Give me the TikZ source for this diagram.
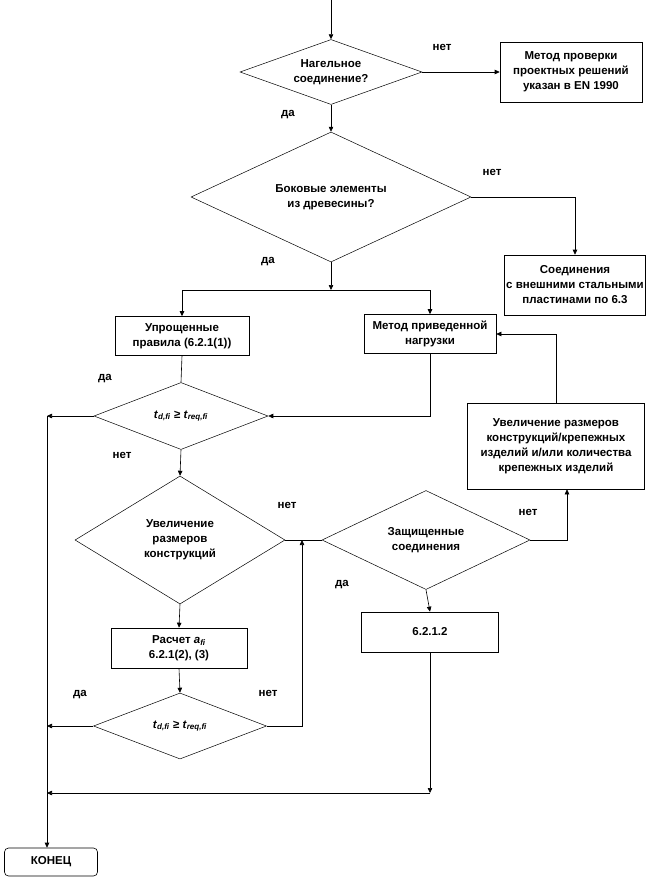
\documentclass[tikz,border=0pt]{standalone}
\usepackage{fontspec}
\setmainfont{Liberation Sans}
\usetikzlibrary{shapes.geometric,arrows.meta}

\begin{document}
\begin{tikzpicture}[x=1pt,y=-1pt,
    font=\bfseries\fontsize{11.5}{15}\selectfont,
    box/.style={draw,line width=0.6pt,align=center,inner sep=2pt},
    dec/.style={diamond,draw,line width=0.5pt,align=center,inner sep=0pt},
    arr/.style={-{Triangle[length=5pt,width=4.5pt]},line width=0.6pt},
    lbl/.style={inner sep=0pt}]
  \useasboundingbox (0,0) rectangle (649,879);

  % decisions
  \node[dec,minimum width=182,minimum height=65,aspect=2.8] (d1) at (331,72) {Нагельное\\соединение?};
  \node[dec,minimum width=280,minimum height=130,aspect=2.15] (d2) at (331,197) {Боковые элементы\\из древесины?};
  \node[dec,minimum width=174,minimum height=67,aspect=2.6] (d3) at (181,416)
    {\textit{t}\textsubscript{\textit{d,fi}} ≥ \textit{t}\textsubscript{\textit{req,fi}}};
  \node[dec,minimum width=210,minimum height=128,aspect=1.64] (d4) at (180,540) {Увеличение\\размеров\\конструкций};
  \node[dec,minimum width=208,minimum height=99,aspect=2.1] (d5) at (426,540) {Защищенные\\соединения};
  \node[dec,minimum width=173,minimum height=66,aspect=2.6] (d6) at (180,726)
    {\textit{t}\textsubscript{\textit{d,fi}} ≥ \textit{t}\textsubscript{\textit{req,fi}}};

  % boxes
  \node[box,minimum width=142,minimum height=60] (b1) at (571,72) {Метод проверки\\проектных решений\\указан в EN 1990};
  \node[box,minimum width=140,minimum height=60] (b2) at (575,285) {Соединения\\с внешними стальными\\пластинами по 6.3};
  \node[box,minimum width=134,minimum height=39] (b3) at (182,336) {Упрощенные\\правила (6.2.1(1))};
  \node[box,minimum width=132,minimum height=39] (b4) at (430,334) {Метод приведенной\\нагрузки};
  \node[box,minimum width=177,minimum height=86] (b5) at (556,446) {Увеличение размеров\\конструкций/крепежных\\изделий и/или количества\\крепежных изделий};
  \node[box,minimum width=136,minimum height=40] (b6) at (179,648) {Расчет \textit{a}\textsubscript{\textit{fi}}\\6.2.1(2), (3)};
  \node[box,minimum width=137,minimum height=40] (b7) at (430,632) {6.2.1.2};
  \node[box,rounded corners=4pt,minimum width=93,minimum height=28] (kon) at (51,862) {КОНЕЦ};

  % helper points
  \coordinate (start) at (331,0);
  \coordinate (split) at (331,290);
  \coordinate (bus) at (47,416);
  \coordinate (join) at (302,540);
  \coordinate (corner) at (430,793);

  % connectors
  \draw[arr] (start) -- (d1.north);
  \draw[arr] (d1.east) -- (b1.west);
  \draw[arr] (d1.south) -- (d2.north);
  \draw[arr] (d2.east) -| (b2.north);
  \draw[arr] (d2.south) -- (split);
  \draw[arr] (split) -| (b3.north);
  \draw[arr] (split) -| (b4.north);
  \draw[line width=0.6pt] (b3.south) -- (d3.north);
  \draw[arr] (b4.south) |- (d3.east);
  \draw[arr] (d3.west) -- (bus);
  \draw[arr] (d3.south) -- (d4.north);
  \draw[line width=0.6pt] (d4.east) -- (d5.west);
  \draw[arr] (d4.south) -- (b6.north);
  \draw[arr] (b6.south) -- (d6.north);
  \draw[arr] (d6.west) -- (d6.west -| bus);
  \draw[arr] (d6.east) -| (join);
  \draw[arr] (d5.east) -| ([xshift=11pt]b5.south);
  \draw[arr] (b5.north) |- (b4.east);
  \draw[arr] (d5.south) -- (b7.north);
  \draw[arr] (b7.south) -- (corner);
  \draw[arr] (corner) -- (corner -| bus);
  \draw[arr] (bus) -- (bus |- kon.north);

  % yes / no
  \foreach \x/\y/\t [count=\i] in {442/47/нет,288/115/да,492/172/нет,268/262/да,
      105/379/да,122/455/нет,287/505/нет,528/512/нет,342/585/да,80/695/да,268/693/нет}
    \node[lbl] (lbl\i) at (\x,\y) {\t};
\end{tikzpicture}
\end{document}
